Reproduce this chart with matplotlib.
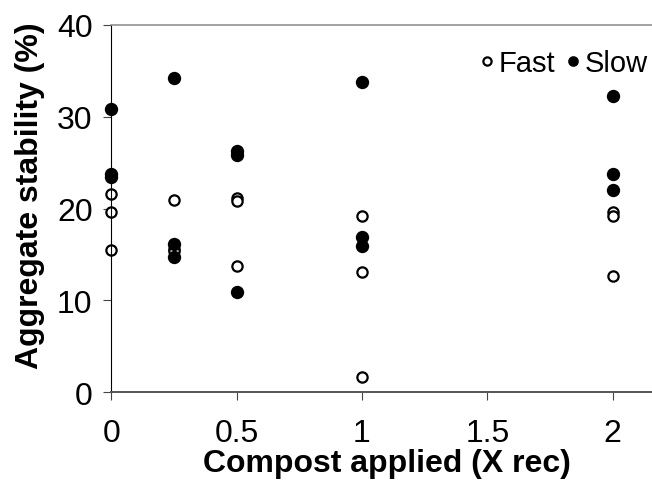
import numpy as np
import matplotlib
matplotlib.use("Agg")
import matplotlib.pyplot as plt

plt.rcParams['font.family'] = ['Liberation Sans', 'DejaVu Sans']

# compost rate (X recommended) and three replicates per rate
rates = [0, 0.25, 0.5, 1, 2]
fast = [[21.6, 19.6, 15.5],
        [20.9, 15.6, 15.4],
        [21.1, 20.8, 13.8],
        [19.2, 13.1, 1.7],
        [19.6, 19.2, 12.7]]
slow = [[30.8, 23.8, 23.4],
        [34.2, 16.1, 14.7],
        [26.3, 25.8, 10.9],
        [33.8, 16.9, 15.9],
        [32.2, 23.8, 22.0]]
xticks = [0, 0.5, 1, 1.5, 2]
yticks = [0, 10, 20, 30, 40]

x_fast = np.repeat(rates, [len(r) for r in fast])
y_fast = np.concatenate(fast)
x_slow = np.repeat(rates, [len(r) for r in slow])
y_slow = np.concatenate(slow)

fig = plt.figure(figsize=(6.52, 4.85), dpi=100)
ax = fig.add_axes([0.1707, 0.189, 0.8293, 0.758])

ax.plot(x_fast, y_fast, 'o', ms=7.4, mfc='white', mec='black', mew=1.6,
        label='Fast', clip_on=False)
ax.plot(x_slow, y_slow, 'o', ms=9.6, mfc='black', mec='black', mew=0,
        label='Slow', clip_on=False)

ax.set_xlim(0, 2.157)
ax.set_ylim(0, 40)
ax.set_xticks(xticks)
ax.set_xticklabels(['0', '0.5', '1', '1.5', '2'])
ax.set_yticks(yticks)

ax.spines['right'].set_visible(False)
ax.spines['top'].set_color('#888888')
ax.spines['top'].set_linewidth(1.1)
ax.spines['bottom'].set_color('#555555')
ax.spines['bottom'].set_linewidth(1.4)
ax.spines['left'].set_color('black')
ax.spines['left'].set_linewidth(0.8)

ax.tick_params(axis='both', direction='out', length=5.5, width=0.8,
               colors='#444444', labelcolor='black', labelsize=23)
ax.tick_params(axis='y', pad=8)
ax.tick_params(axis='x', pad=13)

fig.text(0.594, 0.0274, 'Compost applied (X rec)', fontsize=23,
         fontweight='bold', ha='center', va='baseline')
fig.text(0.0583, 0.5965, 'Aggregate stability (%)', fontsize=23,
         fontweight='bold', ha='center', va='baseline', rotation=90,
         rotation_mode='anchor')

leg = ax.legend(loc='upper right', bbox_to_anchor=(0.993, 0.897),
                bbox_transform=fig.transFigure, ncol=2, frameon=False,
                fontsize=21, markerscale=0.8, handlelength=0.4,
                handletextpad=0.2, columnspacing=0.4, borderpad=0,
                borderaxespad=0)

fig.savefig('out.png', dpi=100)
